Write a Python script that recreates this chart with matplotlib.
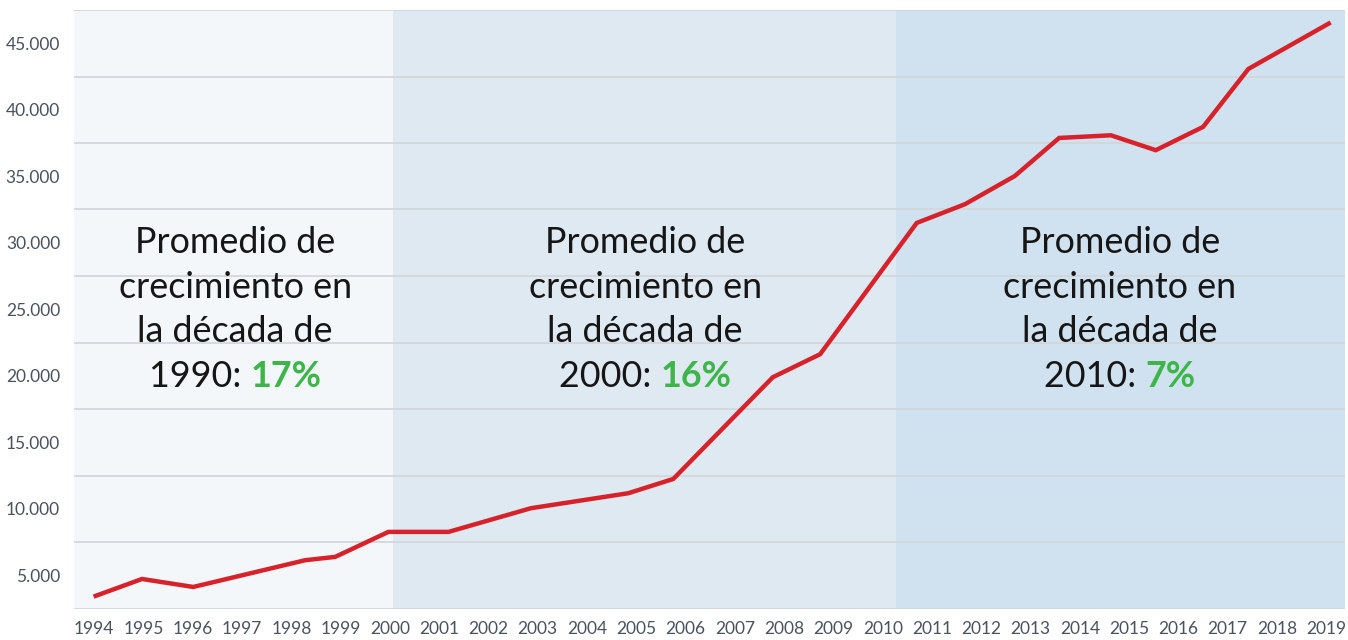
import matplotlib
matplotlib.use("Agg")
import matplotlib.pyplot as plt
import matplotlib.transforms as mtransforms

# positions of the line's vertices (in years)
years = [1994.03, 1994.97, 1996.01, 1998.28, 1998.89, 1999.97, 2001.19,
         2002.86, 2004.84, 2005.75, 2007.77, 2008.73, 2010.69, 2011.67,
         2012.68, 2013.58, 2014.63, 2015.54, 2016.50, 2017.42, 2019.05]
values = [3450, 4720, 4120, 6130, 6380, 8260, 8260,
          10040, 11170, 12240, 19890, 21620, 31490, 32900,
          35020, 37880, 38080, 36960, 38710, 43070, 46480]

tick_years = list(range(1994, 2020))
ytick_values = [5000, 10000, 15000, 20000, 25000, 30000, 35000, 40000, 45000]
ytick_labels = ["5.000", "10.000", "15.000", "20.000", "25.000",
                "30.000", "35.000", "40.000", "45.000"]

decades = [(1993.59, 2000.07), (2000.07, 2010.27), (2010.27, 2019.38)]
decade_colors = ["#f3f7f9", "#dee9f2", "#d0e1f0"]
decade_names = ["1990", "2000", "2010"]
decade_growth = ["17%", "16%", "7%"]
label_centers = [1996.86, 2005.18, 2014.81]

plt.rcParams["font.family"] = ["Lato", "DejaVu Sans"]

fig = plt.figure(figsize=(13.48, 6.4), dpi=100)
ax = fig.add_axes([74 / 1348, 1 - 608.5 / 640, (1345 - 74) / 1348, (608.5 - 10) / 640])

for (x0, x1), c in zip(decades, decade_colors):
    ax.axvspan(x0, x1, color=c, lw=0, zorder=0)

# grid lines sit halfway between the labelled values
for g in range(2500, 50000, 5000):
    ax.axhline(g, color="#d3d6da", lw=1.3, zorder=1)

ax.plot(years, values, color="#d7222b", lw=3.2, zorder=3, solid_joinstyle="miter")

ax.set_xlim(1993.59, 2019.38)
ax.set_ylim(2500, 47500)
ax.set_xticks(tick_years)
ax.set_xticklabels([str(y) for y in tick_years])
ax.set_yticks(ytick_values)
ax.set_yticklabels(ytick_labels)
ax.tick_params(length=0, labelsize=12.5, labelcolor="#4a525c")
ax.tick_params(axis="x", pad=9)
ax.tick_params(axis="y", pad=10)
for s in ax.spines.values():
    s.set_visible(False)

trans = mtransforms.blended_transform_factory(ax.transData, ax.transAxes)
line_y = [0.594, 0.5195, 0.445, 0.3706]
fs = 25.8
fig.canvas.draw()
renderer = fig.canvas.get_renderer()
for xc, name, pct in zip(label_centers, decade_names, decade_growth):
    for txt, yy in zip(["Promedio de", "crecimiento en", "la década de"], line_y[:3]):
        ax.text(xc, yy, txt, transform=trans, ha="center", va="baseline",
                fontsize=fs, color="#161616", zorder=4)
    t1 = ax.text(xc, line_y[3], name + ": ", transform=trans, ha="left",
                 va="baseline", fontsize=fs, color="#161616", zorder=4)
    t2 = ax.text(xc, line_y[3], pct, transform=trans, ha="left",
                 va="baseline", fontsize=fs, color="#3db54a",
                 fontweight="bold", zorder=4)
    w1 = t1.get_window_extent(renderer).width
    w2 = t2.get_window_extent(renderer).width
    xpix = ax.transData.transform((xc, 0))[0]
    start = xpix - (w1 + w2) / 2
    inv = ax.transData.inverted()
    t1.set_x(inv.transform((start, 0))[0])
    t2.set_x(inv.transform((start + w1, 0))[0])

fig.savefig("out.png", dpi=100, facecolor="white")
plt.close(fig)
